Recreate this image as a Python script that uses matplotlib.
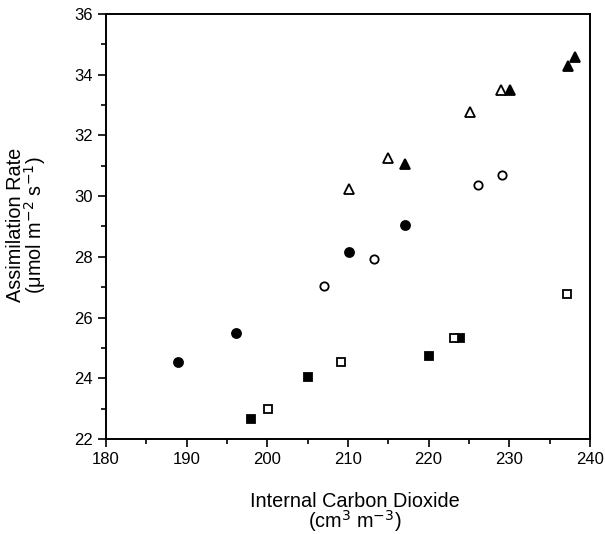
import matplotlib
matplotlib.use("Agg")
import matplotlib.pyplot as plt
from matplotlib.ticker import MultipleLocator

plt.rcParams['font.family'] = ['Liberation Sans', 'DejaVu Sans']

# filled / open circles
circ_fill_x = [188.9, 196.1, 210.2, 217.1]
circ_fill_y = [24.53, 25.5, 28.17, 29.06]
circ_open_x = [207.1, 213.2, 226.1, 229.1]
circ_open_y = [27.03, 27.93, 30.35, 30.7]

# filled / open squares
sq_fill_x = [198.0, 205.1, 220.0, 223.9]
sq_fill_y = [22.66, 24.03, 24.72, 25.33]
sq_open_x = [200.1, 209.1, 223.1, 237.2]
sq_open_y = [23.0, 24.54, 25.33, 26.77]

# filled / open triangles
tri_fill_x = [217.1, 230.1, 237.3, 238.1]
tri_fill_y = [31.07, 33.5, 34.27, 34.58]
tri_open_x = [210.2, 215.0, 225.1, 229.0]
tri_open_y = [30.22, 31.24, 32.76, 33.5]

fig = plt.figure(figsize=(6.05, 5.34), dpi=100)
ax = fig.add_axes([0.175, 0.178, 0.8, 0.796])

kw = dict(linestyle='none', markeredgecolor='black', markeredgewidth=1.3)
ax.plot(circ_fill_x, circ_fill_y, marker='o', markersize=6.5, markerfacecolor='black', **kw)
ax.plot(circ_open_x, circ_open_y, marker='o', markersize=6.0, markerfacecolor='white', **kw)
ax.plot(sq_fill_x, sq_fill_y, marker='s', markersize=6.3, markerfacecolor='black', **kw)
ax.plot(sq_open_x, sq_open_y, marker='s', markersize=6.0, markerfacecolor='white', **kw)
ax.plot(tri_fill_x, tri_fill_y, marker='^', markersize=7.0, markerfacecolor='black', **kw)
ax.plot(tri_open_x, tri_open_y, marker='^', markersize=6.5, markerfacecolor='white', **kw)

ax.set_xlim(180, 240)
ax.set_ylim(22, 36)
ax.xaxis.set_major_locator(MultipleLocator(10))
ax.xaxis.set_minor_locator(MultipleLocator(5))
ax.yaxis.set_major_locator(MultipleLocator(2))
ax.yaxis.set_minor_locator(MultipleLocator(1))
ax.tick_params(which='major', direction='out', length=6, width=1.2, labelsize=12)
ax.tick_params(which='minor', direction='out', length=3.5, width=1.2)
for s in ax.spines.values():
    s.set_linewidth(1.4)

fig.text(0.587, 0.039, 'Internal Carbon Dioxide\n(cm$^3$ m$^{-3}$)',
         ha='center', va='center', fontsize=14.3, linespacing=0.85)
fig.text(0.045, 0.579, 'Assimilation Rate\n(\u03bcmol m$^{-2}$ s$^{-1}$)',
         ha='center', va='center', rotation=90, fontsize=14.3, linespacing=0.85)

fig.savefig('out.png', dpi=100)
